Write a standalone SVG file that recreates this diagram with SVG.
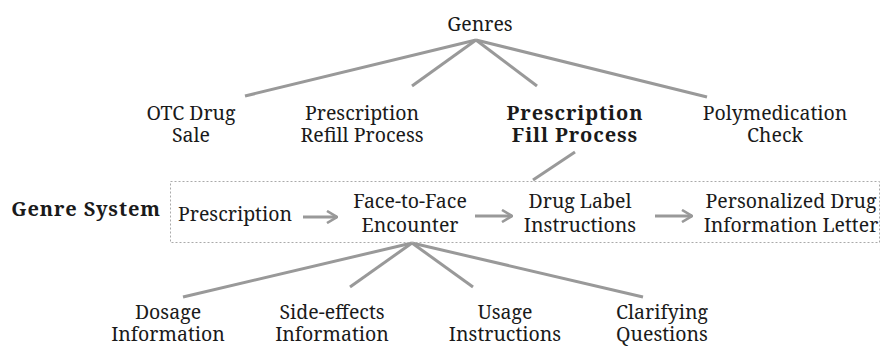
<svg xmlns="http://www.w3.org/2000/svg" width="881" height="347" viewBox="0 0 881 347">
<defs>
<style>
.t{font-size:19.5px;fill:#1a1a1a;text-anchor:middle}
.b{font-weight:bold;font-size:20px;letter-spacing:0.9px}
.ln{stroke:#999;stroke-width:3;fill:none;stroke-linecap:butt}
.box{stroke:#aaa;stroke-width:1;stroke-dasharray:2 2;fill:none}
</style>
<marker id="ah" viewBox="0 0 12 14" refX="11" refY="7" markerWidth="12" markerHeight="14" markerUnits="userSpaceOnUse" orient="auto">
<path d="M1,1 L11,7 L1,13" fill="none" stroke="#999" stroke-width="2.6"/>
</marker>
</defs>
<rect width="881" height="347" fill="#fff"/>
<g id="connectors">
<line class="ln" x1="476" y1="40" x2="245" y2="96"/>
<line class="ln" x1="476" y1="40" x2="412" y2="86"/>
<line class="ln" x1="476" y1="40" x2="537" y2="86"/>
<line class="ln" x1="476" y1="40" x2="707" y2="97"/>
<line class="ln" x1="575" y1="152" x2="533" y2="180"/>
<line class="ln" x1="303" y1="217" x2="337" y2="217" marker-end="url(#ah)"/>
<line class="ln" x1="475" y1="216" x2="512" y2="216" marker-end="url(#ah)"/>
<line class="ln" x1="655" y1="216" x2="692" y2="216" marker-end="url(#ah)"/>
<line class="ln" x1="412" y1="243" x2="183" y2="297"/>
<line class="ln" x1="412" y1="243" x2="350" y2="287"/>
<line class="ln" x1="412" y1="243" x2="473" y2="287"/>
<line class="ln" x1="412" y1="243" x2="643" y2="297"/>
</g>
<g id="genre-system-box"><rect class="box" x="170.5" y="181.5" width="709" height="61"/></g>
<g font-family="Noto Serif, Liberation Serif, serif" class="t">
<g id="genres"><text x="480" y="31">Genres</text></g>
<g id="otc"><text x="191" y="120">OTC Drug</text><text x="191" y="142">Sale</text></g>
<g id="refill"><text x="362" y="120">Prescription</text><text x="362" y="142">Refill Process</text></g>
<g id="fill"><text class="b" x="575" y="120">Prescription</text><text class="b" x="575" y="142">Fill Process</text></g>
<g id="poly"><text x="775" y="120">Polymedication</text><text x="775" y="142">Check</text></g>
<g id="genre-system"><text class="b" x="86" y="216">Genre System</text></g>
<g id="prescription"><text x="235" y="221">Prescription</text></g>
<g id="f2f"><text x="410" y="208">Face-to-Face</text><text x="410" y="232">Encounter</text></g>
<g id="label"><text x="580" y="208">Drug Label</text><text x="580" y="232">Instructions</text></g>
<g id="letter"><text x="791" y="208">Personalized Drug</text><text x="791" y="232">Information Letter</text></g>
<g id="dosage"><text x="168" y="319">Dosage</text><text x="168" y="341">Information</text></g>
<g id="side"><text x="332" y="319">Side-effects</text><text x="332" y="341">Information</text></g>
<g id="usage"><text x="505" y="319">Usage</text><text x="505" y="341">Instructions</text></g>
<g id="clarify"><text x="662" y="319">Clarifying</text><text x="662" y="341">Questions</text></g>
</g>
</svg>
